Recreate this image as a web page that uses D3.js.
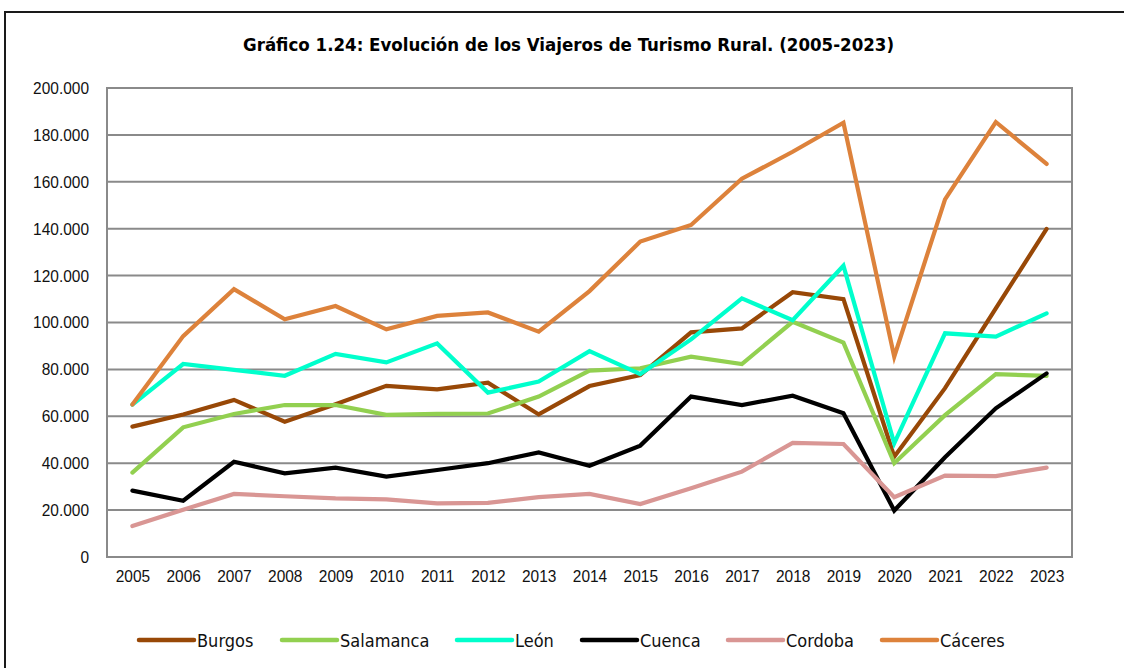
<!DOCTYPE html>
<html>
<head>
<meta charset="utf-8">
<script src="https://cdn.jsdelivr.net/npm/d3@7"></script>
<style>
  html, body { margin: 0; padding: 0; background: #fff; }
  svg { display: block; }
</style>
</head>
<body>
<svg id="chart" width="1124" height="668"></svg>
<script>
const years = ["2005","2006","2007","2008","2009","2010","2011","2012","2013","2014","2015","2016","2017","2018","2019","2020","2021","2022","2023"];
const yTicks = [0, 20000, 40000, 60000, 80000, 100000, 120000, 140000, 160000, 180000, 200000];

const burgos    = [55600, 60800, 67000, 57700, 65100, 73000, 71500, 74300, 60800, 72900, 77600, 95800, 97500, 112900, 110000, 42800, 72000, 106000, 139900];
const salamanca = [36000, 55300, 61000, 64800, 64800, 60600, 61000, 61200, 68400, 79500, 80500, 85400, 82300, 100300, 91400, 40000, 60500, 78000, 77200];
const leon      = [65000, 82300, 79800, 77300, 86600, 83000, 91100, 70100, 74800, 87800, 78000, 92800, 110300, 101000, 124200, 48500, 95400, 94000, 103900];
const cuenca    = [28300, 24000, 40600, 35700, 38100, 34300, 37100, 40000, 44600, 38900, 47500, 68400, 64800, 68800, 61300, 19800, 42500, 63400, 78300];
const cordoba   = [13200, 20200, 26900, 25900, 25000, 24600, 22900, 23100, 25500, 26900, 22600, 29300, 36400, 48700, 48200, 25500, 34700, 34500, 38100];
const caceres   = [65000, 94200, 114200, 101400, 107000, 97100, 102800, 104300, 96100, 113400, 134500, 141600, 161300, 172800, 185200, 85400, 152500, 185500, 167600];

const seriesNames  = ["Burgos", "Salamanca", "León", "Cuenca", "Cordoba", "Cáceres"];
const seriesValues = [burgos, salamanca, leon, cuenca, cordoba, caceres];
const seriesColors = ["#984807", "#92D050", "#00FFCC", "#000000", "#D99694", "#DD823B"];

const title = "Gráfico 1.24: Evolución de los Viajeros de Turismo Rural. (2005-2023)";

const svg = d3.select("#chart");
const L = 107, R = 1072, T = 88, B = 557;

const x = d3.scalePoint().domain(years).range([L, R]).padding(0.5);
const y = d3.scaleLinear().domain([0, 200000]).range([B, T]);

const loc = d3.formatLocale({decimal: ",", thousands: ".", grouping: [3], currency: ["", ""]});
const fmt = loc.format(",d");

// outer frame (left and top)
svg.append("path")
  .attr("d", `M5,${668 + 5} L5,12 L${1124 + 5},12`)
  .attr("fill", "none").attr("stroke", "#1a1a1a").attr("stroke-width", 2);

// title
svg.append("text")
  .attr("x", 568.5).attr("y", 51)
  .attr("text-anchor", "middle")
  .attr("font-family", "'DejaVu Sans Condensed', 'DejaVu Sans', sans-serif")
  .attr("font-weight", "bold")
  .attr("font-size", 17)
  .attr("textLength", 651)
  .attr("lengthAdjust", "spacingAndGlyphs")
  .attr("fill", "#000")
  .text(title);

// gridlines
svg.append("g").selectAll("line").data(yTicks).join("line")
  .attr("x1", L).attr("x2", R)
  .attr("y1", d => y(d)).attr("y2", d => y(d))
  .attr("stroke", "#8a8a8a").attr("stroke-width", 2);

// plot border
svg.append("rect")
  .attr("x", L).attr("y", T).attr("width", R - L).attr("height", B - T)
  .attr("fill", "none").attr("stroke", "#8a8a8a").attr("stroke-width", 2);

const SX = 0.91;

// y axis
const yAxis = d3.axisLeft(y).tickValues(yTicks).tickFormat(d => d === 0 ? "0" : fmt(d)).tickSize(0).tickPadding(18);
const gy = svg.append("g").attr("transform", `translate(${L},0)`).call(yAxis);
gy.select(".domain").remove();
gy.selectAll("text")
  .attr("font-family", "'Liberation Sans', Arial, sans-serif")
  .attr("font-size", 17)
  .attr("x", -18 / SX)
  .attr("transform", `scale(${SX},1)`)
  .attr("fill", "#111");

// x axis
const xAxis = d3.axisBottom(x).tickSize(0).tickPadding(13);
const gx = svg.append("g").attr("transform", `translate(0,${B})`).call(xAxis);
gx.select(".domain").remove();
gx.selectAll("text")
  .attr("font-family", "'Liberation Sans', Arial, sans-serif")
  .attr("font-size", 17)
  .attr("transform", `scale(${SX},1)`)
  .attr("fill", "#111");

// series lines
const line = d3.line().x((d, i) => x(years[i])).y(d => y(d));
svg.append("g").selectAll("path").data(seriesValues).join("path")
  .attr("d", d => line(d))
  .attr("fill", "none")
  .attr("stroke", (d, i) => seriesColors[i])
  .attr("stroke-width", 4.2)
  .attr("stroke-linecap", "round")
  .attr("stroke-linejoin", "miter");

// legend
const legendX = [139, 282, 457, 582, 728, 882];
const lg = svg.append("g").selectAll("g").data(seriesNames).join("g")
  .attr("transform", (d, i) => `translate(${legendX[i]},640)`);
lg.append("line")
  .attr("x1", 0).attr("x2", 55).attr("y1", 0).attr("y2", 0)
  .attr("stroke", (d, i) => seriesColors[i])
  .attr("stroke-width", 4.5)
  .attr("stroke-linecap", "round");
lg.append("text")
  .attr("x", 58).attr("y", 6.5)
  .attr("font-family", "'DejaVu Sans Condensed', 'DejaVu Sans', sans-serif")
  .attr("font-size", 18)
  .attr("fill", "#111")
  .text(d => d);
</script>
</body>
</html>
